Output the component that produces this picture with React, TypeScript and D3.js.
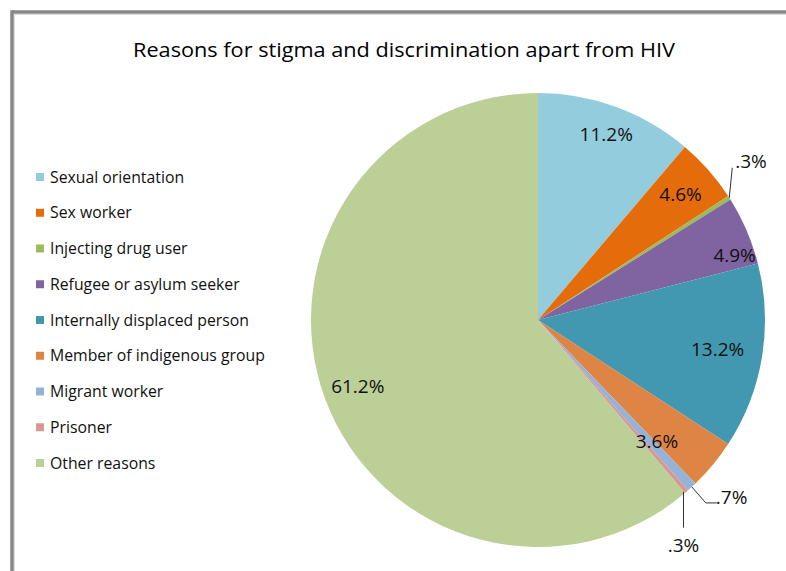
import React from "react";
import * as d3 from "d3";

const title = "Reasons for stigma and discrimination apart from HIV";
const categories = [
  "Sexual orientation",
  "Sex worker",
  "Injecting drug user",
  "Refugee or asylum seeker",
  "Internally displaced person",
  "Member of indigenous group",
  "Migrant worker",
  "Prisoner",
  "Other reasons",
];
const values = [11.2, 4.6, 0.3, 4.9, 13.2, 3.6, 0.7, 0.3, 61.2];
const labels = ["11.2%", "4.6%", ".3%", "4.9%", "13.2%", "3.6%", ".7%", ".3%", "61.2%"];
const colors = [
  "#93CDDD",
  "#E46C0A",
  "#9BBB59",
  "#8064A2",
  "#4298B0",
  "#DE8444",
  "#95B3D7",
  "#D99694",
  "#BBCF97",
];

const W = 786;
const H = 571;
const cx = 538;
const cy = 320;
const R = 227;
const FONT = "'Open Sans', 'DejaVu Sans', sans-serif";
const LABEL_SIZE = 19;

// label placement: radius / angular nudge (degrees) for inside labels; small slices use leader lines
const insideRadius = [198, 190, 0, 207, 182, 170, 0, 0, 192];
const angleNudge = [0, 0, 0, 5, 0, 6, 0, 0, 0];

export default function App() {
  const pie = d3
    .pie<number>()
    .sort(null)
    .value((d) => d);
  const arcs = pie(values);
  const arc = d3.arc<d3.PieArcDatum<number>>().innerRadius(0).outerRadius(R);

  const polar = (a: number, r: number): [number, number] => [
    Math.sin(a) * r,
    -Math.cos(a) * r,
  ];

  const legendY = d3
    .scalePoint<string>()
    .domain(categories)
    .range([177, 463]);

  const smallLabels: React.ReactElement[] = [];
  {
    const a = arcs[2];
    const mid = (a.startAngle + a.endAngle) / 2;
    const [ex, ey] = polar(mid, R);
    const tx = ex + 3;
    const ty = ey - 30;
    smallLabels.push(
      <g key="s2">
        <line x1={ex} y1={ey} x2={tx} y2={ty} stroke="#333" strokeWidth={1} />
        <text x={tx + 3} y={ty} fontFamily={FONT} fontSize={LABEL_SIZE} fill="#111">
          {labels[2]}
        </text>
      </g>
    );
  }
  {
    const a = arcs[6];
    const mid = (a.startAngle + a.endAngle) / 2;
    const [ex, ey] = polar(mid, R);
    const bx = ex + 14;
    const by = ey + 16;
    smallLabels.push(
      <g key="s6">
        <polyline
          points={`${ex},${ey} ${bx},${by} ${bx + 11},${by}`}
          fill="none"
          stroke="#333"
          strokeWidth={1}
        />
        <text x={bx + 10} y={by} dy="0.05em" fontFamily={FONT} fontSize={LABEL_SIZE} fill="#111">
          {labels[6]}
        </text>
      </g>
    );
  }
  {
    const a = arcs[7];
    const mid = (a.startAngle + a.endAngle) / 2;
    const [ex, ey] = polar(mid, R);
    const lx = ex - 3;
    smallLabels.push(
      <g key="s7">
        <line x1={lx} y1={ey} x2={lx} y2={ey + 36} stroke="#333" strokeWidth={1} />
        <text x={lx} y={ey + 54} dy="0.35em" textAnchor="middle" fontFamily={FONT} fontSize={LABEL_SIZE} fill="#111">
          {labels[7]}
        </text>
      </g>
    );
  }

  return (
    <div style={{ position: "absolute", left: 0, top: 0 }}>
      <style>{`html,body{margin:0;padding:0;overflow:hidden;}`}</style>
      <svg width={W} height={H} style={{ display: "block", background: "#fff" }}>
        <rect x={0} y={0} width={W} height={H} fill="#fff" />
        <line x1={12} y1={12} x2={W} y2={12} stroke="#888" strokeWidth={3.5} />
        <line x1={12} y1={10.25} x2={12} y2={H} stroke="#888" strokeWidth={3.5} />
        <line x1={14.5} y1={14.5} x2={W} y2={14.5} stroke="#ddd" strokeWidth={1} />
        <line x1={14.5} y1={14.5} x2={14.5} y2={H} stroke="#ddd" strokeWidth={1} />
        <text
          x={404}
          y={57}
          textAnchor="middle"
          fontFamily={FONT}
          fontSize={20}
          textLength={542}
          lengthAdjust="spacingAndGlyphs"
          fill="#000"
        >
          {title}
        </text>

        <g transform={`translate(${cx},${cy})`}>
          {arcs.map((a, i) => (
            <path key={i} d={arc(a) || ""} fill={colors[i]} />
          ))}
          {arcs.map((a, i) => {
            const mid = (a.startAngle + a.endAngle) / 2 + (angleNudge[i] * Math.PI) / 180;
            if (insideRadius[i] > 0) {
              const [x, y] = polar(mid, insideRadius[i]);
              return (
                <text
                  key={"l" + i}
                  x={x}
                  y={y}
                  dy="0.35em"
                  textAnchor="middle"
                  fontFamily={FONT}
                  fontSize={LABEL_SIZE}
                  fill="#111"
                >
                  {labels[i]}
                </text>
              );
            }
            return null;
          })}
          {smallLabels}
        </g>

        <g>
          {categories.map((c, i) => {
            const y = legendY(c) as number;
            return (
              <g key={c}>
                <rect x={36} y={y - 4} width={8} height={8} fill={colors[i]} />
                <text x={50} y={y} dy="0.35em" fontFamily={FONT} fontSize={15.8} fill="#111">
                  {c}
                </text>
              </g>
            );
          })}
        </g>
      </svg>
    </div>
  );
}
